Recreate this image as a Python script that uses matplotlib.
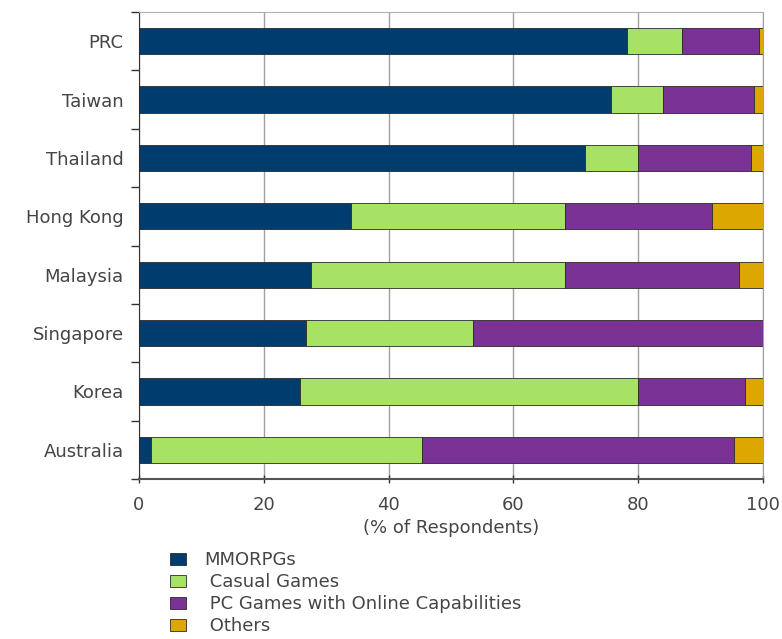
import matplotlib
matplotlib.use("Agg")
import matplotlib.pyplot as plt
import numpy as np
from matplotlib.ticker import FixedLocator

countries = ["PRC", "Taiwan", "Thailand", "Hong Kong", "Malaysia", "Singapore", "Korea", "Australia"]
mmorpg = [78.2, 75.7, 71.4, 34.0, 27.6, 26.8, 25.8, 1.9]
casual = [8.8, 8.2, 8.6, 34.2, 40.6, 26.7, 54.2, 43.5]
pcgames = [12.4, 14.7, 18.1, 23.6, 27.9, 46.5, 17.1, 49.9]
others = [0.6, 1.4, 1.9, 8.2, 3.9, 0.0, 2.9, 4.7]
series_labels = ["MMORPGs", " Casual Games", " PC Games with Online Capabilities", " Others"]
colors = ["#003d6e", "#a8e264", "#7a3394", "#dba700"]
xticks = [0, 20, 40, 60, 80, 100]

plt.rcParams['font.family'] = ['DejaVu Sans']
txt = "#454545"

fig = plt.figure(figsize=(7.82, 6.39), dpi=100)
ax = fig.add_axes([139/782, 1-479/639, 624/782, 467/639])

y = np.arange(len(countries))
left = np.zeros(len(countries))
handles = []
for vals, c, lab in zip([mmorpg, casual, pcgames, others], colors, series_labels):
    b = ax.barh(y, vals, left=left, height=0.45, color=c, edgecolor="#2a2a2a",
                linewidth=0.6, label=lab, zorder=3)
    handles.append(b)
    left = left + np.array(vals)

ax.set_xlim(0, 100)
ax.set_ylim(len(countries)-0.5, -0.5)
ax.set_xticks(xticks)
ax.set_yticks(y)
ax.set_yticklabels(countries)
ax.yaxis.set_minor_locator(FixedLocator(np.arange(-0.5, len(countries), 1.0)))
ax.tick_params(axis='y', which='major', length=0, pad=11, labelsize=13, labelcolor=txt)
ax.tick_params(axis='y', which='minor', length=6, width=1.0, color="#333333", direction='out')
ax.tick_params(axis='x', which='major', length=6, width=1.0, color="#333333", direction='inout',
               labelsize=13, labelcolor=txt, pad=9)
ax.grid(axis='x', color="#a0a0a0", linewidth=1.0, zorder=0)
ax.spines['top'].set_color("#b0b0b0")
ax.spines['right'].set_color("#a0a0a0")
ax.spines['left'].set_color("#333333")
ax.spines['bottom'].set_color("#555555")
ax.spines['bottom'].set_linewidth(1.5)
ax.set_xlabel("(% of Respondents)", fontsize=13, color=txt, labelpad=4)

leg = fig.legend(handles=handles, labels=series_labels, loc='upper left',
                 bbox_to_anchor=(170/782, 1-551/639), frameon=False, fontsize=13,
                 borderpad=0, borderaxespad=0, labelspacing=0.22,
                 handlelength=0.9, handleheight=0.65, handletextpad=1.0)
for t in leg.get_texts():
    t.set_color(txt)

fig.savefig("out.png", dpi=100)
